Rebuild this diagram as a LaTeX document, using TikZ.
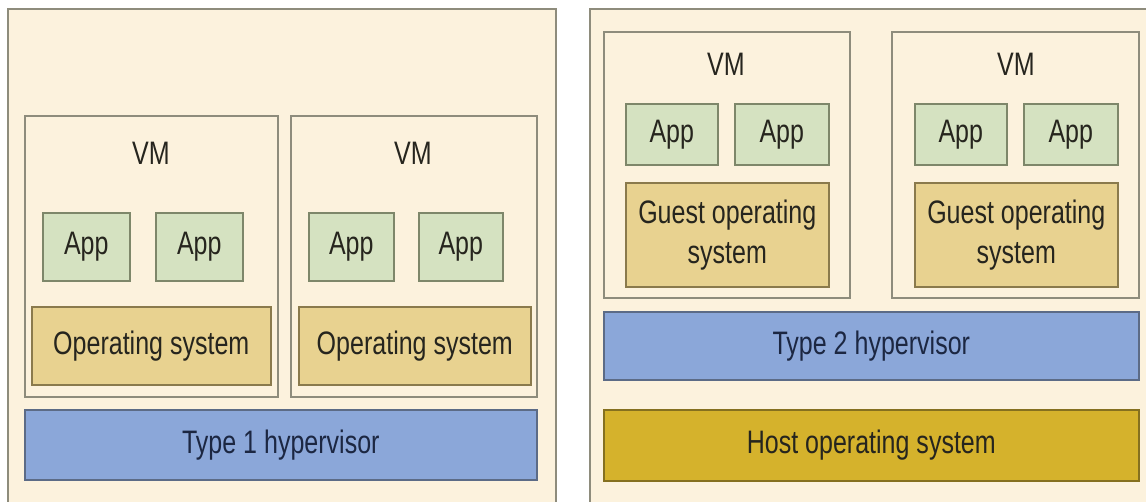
\documentclass[tikz,border=0pt]{standalone}
\usepackage{fontspec}
\setmainfont{Liberation Sans}[FakeStretch=0.77]
\definecolor{panelfill}{HTML}{FCF2DD}
\definecolor{panelline}{HTML}{8E8C7C}
\definecolor{appfill}{HTML}{D5E2C1}
\definecolor{appline}{HTML}{7E876A}
\definecolor{osfill}{HTML}{E8D290}
\definecolor{osline}{HTML}{8A7A4C}
\definecolor{hypfill}{HTML}{8BA7D9}
\definecolor{hypline}{HTML}{5C6B86}
\definecolor{hostfill}{HTML}{D5B22C}
\definecolor{hostline}{HTML}{85701F}
\definecolor{ink}{HTML}{26251E}
\definecolor{navyink}{HTML}{1C2742}
\tikzset{
  layer/.style={draw, line width=1.6pt, inner sep=0pt, anchor=north west,
    align=center, font=\fontsize{32.5}{40}\selectfont, text=ink},
  panel/.style={layer, fill=panelfill, draw=panelline},
  vmbox/.style={layer, fill=panelfill, draw=panelline},
  appbox/.style={layer, fill=appfill, draw=appline},
  osbox/.style={layer, fill=osfill, draw=osline},
  hypbox/.style={layer, fill=hypfill, draw=hypline, text=navyink},
  hostbox/.style={layer, fill=hostfill, draw=hostline},
  vmlabel/.style={font=\fontsize{32.5}{40}\selectfont, text=ink, inner sep=0pt}
}
\begin{document}
\begin{tikzpicture}[x=1pt, y=-1pt]
\useasboundingbox (0,0) rectangle (1146,502);
\clip (0,0) rectangle (1146,502);
\fill[white] (0,0) rectangle (1146,502);

% Type 1 stack
\node[panel, minimum width=548pt, minimum height=510pt] (panelL) at (7,8) {};
\node[vmbox, minimum width=253pt, minimum height=281pt] (vmL1) at (24,115) {};
\node[vmlabel] (vmL1t) at (151,153) {VM};
\node[appbox, minimum width=87pt, minimum height=68pt] (appL1) at (42,212) {App};
\node[appbox, minimum width=87pt, minimum height=68pt] (appL2) at (155,212) {App};
\node[osbox, minimum width=239pt, minimum height=78pt] (osL1) at (31,306) {Operating system};
\node[vmbox, minimum width=246pt, minimum height=281pt] (vmL2) at (290,115) {};
\node[vmlabel] (vmL2t) at (413,153) {VM};
\node[appbox, minimum width=85pt, minimum height=68pt] (appL3) at (308,212) {App};
\node[appbox, minimum width=84pt, minimum height=68pt] (appL4) at (418,212) {App};
\node[osbox, minimum width=232pt, minimum height=78pt] (osL2) at (298,306) {Operating system};
\node[hypbox, minimum width=512pt, minimum height=70pt] (hypL) at (24,409) {Type 1 hypervisor};

% Type 2 stack
\node[panel, minimum width=600pt, minimum height=510pt] (panelR) at (589,8) {};
\node[vmbox, minimum width=246pt, minimum height=266pt] (vmR1) at (603,31) {};
\node[vmlabel] (vmR1t) at (726,64) {VM};
\node[appbox, minimum width=92pt, minimum height=61pt] (appR1) at (625,103) {App};
\node[appbox, minimum width=94pt, minimum height=61pt] (appR2) at (734,103) {App};
\node[osbox, minimum width=203pt, minimum height=104pt] (gosR1) at (625,182) {Guest operating\\system};
\node[vmbox, minimum width=247pt, minimum height=266pt] (vmR2) at (891,31) {};
\node[vmlabel] (vmR2t) at (1016,64) {VM};
\node[appbox, minimum width=92pt, minimum height=61pt] (appR3) at (914,103) {App};
\node[appbox, minimum width=94pt, minimum height=61pt] (appR4) at (1023,103) {App};
\node[osbox, minimum width=203pt, minimum height=104pt] (gosR2) at (914,182) {Guest operating\\system};
\node[hypbox, minimum width=535pt, minimum height=68pt] (hypR) at (603,311) {Type 2 hypervisor};
\node[hostbox, minimum width=535pt, minimum height=71pt] (hostR) at (603,409) {Host operating system};
\end{tikzpicture}
\end{document}
